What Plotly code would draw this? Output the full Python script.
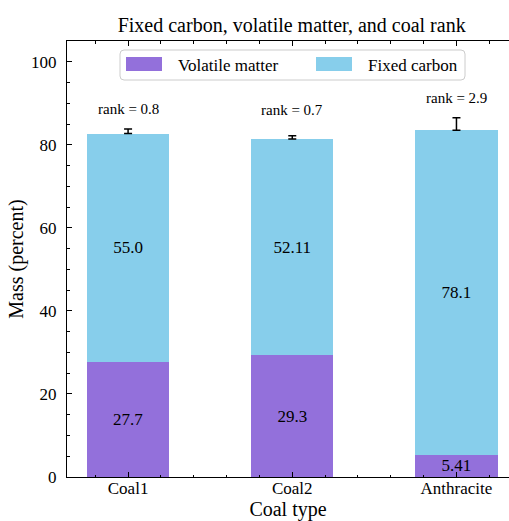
import numpy as np
import plotly.graph_objects as go

# Proximate analysis of three coal samples (mass percent)
coal_types = ["Coal1", "Coal2", "Anthracite"]
volatile_matter = [27.7, 29.3, 5.41]
fixed_carbon = [55.0, 52.11, 78.1]
total_error = [0.55, 0.4, 1.5]
coal_rank = [0.8, 0.7, 2.9]
series_names = ["Volatile matter", "Fixed carbon"]

SERIF = "Liberation Serif"
PURPLE = "#9370DB"
SKYBLUE = "#87CEEB"
series_colors = [PURPLE, SKYBLUE]

x = np.arange(len(coal_types))
vm = np.array(volatile_matter)
fc = np.array(fixed_carbon)
err = np.array(total_error)
total = vm + fc

fig = go.Figure()

for vals, name, color in zip([volatile_matter, fixed_carbon], series_names, series_colors):
    fig.add_trace(go.Bar(
        x=x, y=vals, name=name, width=0.5,
        marker=dict(color=color, line=dict(width=0)),
        text=[str(v) for v in vals],
        textposition="inside", insidetextanchor="middle", constraintext="none",
        textfont=dict(family=SERIF, size=17, color="black"),
        showlegend=False,
    ))

# uncertainty on the total mass, drawn just above each stack
fig.add_trace(go.Scatter(
    x=x, y=total + err, mode="markers",
    marker=dict(size=0.1, color="black"),
    error_y=dict(type="data", array=err, visible=True,
                 color="black", thickness=1.5, width=4),
    showlegend=False, hoverinfo="skip",
))

# rank labels above each stack
label_y = np.maximum(total + 2 * err + 4.8, 88.3)
for xi, yi, r in zip(x, label_y, coal_rank):
    fig.add_annotation(x=xi, y=yi, text=f"rank = {r}", showarrow=False,
                       xanchor="center", yanchor="middle",
                       font=dict(family=SERIF, size=15, color="black"))

# legend box with wide colour patches, in plot-area (paper) coordinates
PLOT_L, PLOT_R, PLOT_T, PLOT_B = 67, 509, 41, 477


def px_x(p):
    return (p - PLOT_L) / (PLOT_R - PLOT_L)


def px_y(p):
    return (PLOT_B - p) / (PLOT_B - PLOT_T)


def rounded_rect(x0, y0, x1, y1, r):
    # pixel-space rectangle with rounded corners, converted to paper coords
    pts = [
        f"M {px_x(x0 + r)},{px_y(y0)}",
        f"L {px_x(x1 - r)},{px_y(y0)}",
        f"Q {px_x(x1)},{px_y(y0)} {px_x(x1)},{px_y(y0 + r)}",
        f"L {px_x(x1)},{px_y(y1 - r)}",
        f"Q {px_x(x1)},{px_y(y1)} {px_x(x1 - r)},{px_y(y1)}",
        f"L {px_x(x0 + r)},{px_y(y1)}",
        f"Q {px_x(x0)},{px_y(y1)} {px_x(x0)},{px_y(y1 - r)}",
        f"L {px_x(x0)},{px_y(y0 + r)}",
        f"Q {px_x(x0)},{px_y(y0)} {px_x(x0 + r)},{px_y(y0)}",
        "Z",
    ]
    return " ".join(pts)


fig.add_shape(type="path", xref="paper", yref="paper",
              path=rounded_rect(120, 50, 465, 80, 4),
              fillcolor="rgba(255,255,255,0.8)",
              line=dict(color="#cccccc", width=1))

legend_items = zip(series_names, series_colors, [126, 316])
for name, color, left in legend_items:
    fig.add_shape(type="rect", xref="paper", yref="paper",
                  x0=px_x(left), x1=px_x(left + 36),
                  y0=px_y(71), y1=px_y(57),
                  fillcolor=color, line=dict(width=0))
    fig.add_annotation(xref="paper", yref="paper",
                       x=px_x(left + 50), y=px_y(65),
                       text=name, showarrow=False,
                       xanchor="left", yanchor="middle",
                       font=dict(family=SERIF, size=17, color="black"))

axis_common = dict(
    showline=True, linecolor="black", linewidth=1,
    ticks="inside", ticklen=5, tickwidth=1, tickcolor="black",
    showgrid=False, zeroline=False,
    tickfont=dict(family=SERIF, size=17, color="black"),
)

fig.update_layout(
    width=509, height=521,
    margin=dict(l=PLOT_L, r=509 - PLOT_R, t=PLOT_T, b=521 - PLOT_B),
    paper_bgcolor="white", plot_bgcolor="white",
    barmode="stack", bargap=0.5,
    font=dict(family=SERIF, color="black"),
    showlegend=False,
    title=dict(text="Fixed carbon, volatile matter, and coal rank",
               font=dict(family=SERIF, size=20, color="black"),
               x=0.573, xanchor="center", xref="container",
               y=1 - 25 / 521, yanchor="middle", yref="container"),
    xaxis=dict(
        **axis_common,
        range=[-0.372, 2.32],
        tickmode="array", tickvals=list(x), ticktext=coal_types,
        mirror="allticks",
        minor=dict(ticks="inside", dtick=0.2, tick0=0, ticklen=2.5,
                   tickcolor="black", tickwidth=1),
        ticklabelstandoff=-4,
        title=dict(text="Coal type", font=dict(family=SERIF, size=20),
                   standoff=3),
    ),
    yaxis=dict(
        **axis_common,
        range=[0, 105], dtick=20, tick0=0,
        minor=dict(ticks="inside", dtick=5, ticklen=2.5,
                   tickcolor="black", tickwidth=1),
        ticklabelstandoff=6,
        title=dict(text="Mass (percent)", font=dict(family=SERIF, size=20),
                   standoff=2),
    ),
)

fig.write_html("out.html")
